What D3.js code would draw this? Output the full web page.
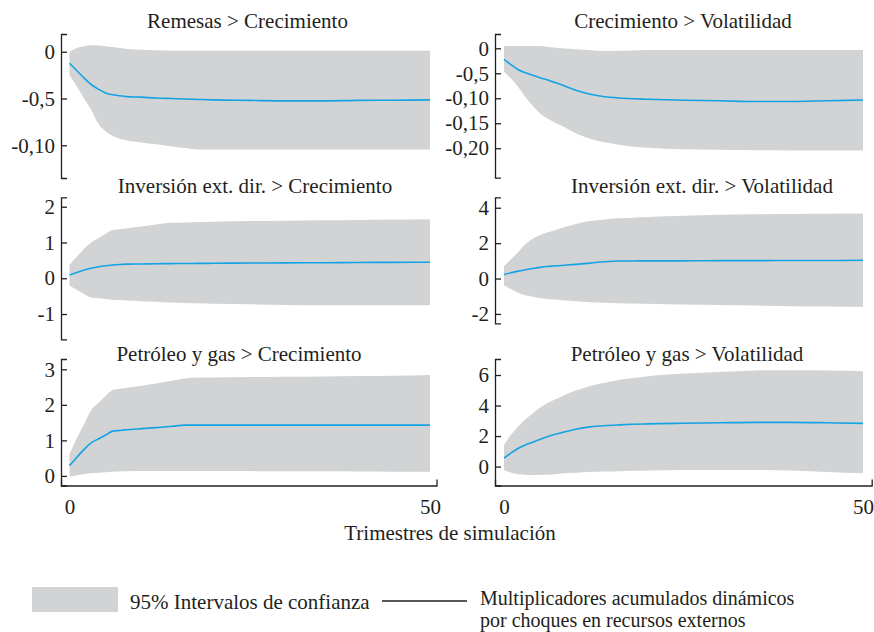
<!DOCTYPE html>
<html><head><meta charset="utf-8">
<script src="https://cdn.jsdelivr.net/npm/d3@7"></script>
<style>
body{margin:0;background:#fff;}
</style></head>
<body><svg id="c" width="874" height="632"></svg>
<script>
// ---- data ----
const T = [0,1,2,3,4,5,6,7,8,10,12,14,16,18,20,25,30,35,40,45,50];
const titles = ["Remesas > Crecimiento","Crecimiento > Volatilidad","Inversión ext. dir. > Crecimiento","Inversión ext. dir. > Volatilidad","Petróleo y gas > Crecimiento","Petróleo y gas > Volatilidad"];

const remMean = [-0.0123,-0.020,-0.028,-0.035,-0.040,-0.044,-0.046,-0.047,-0.048,-0.0485,-0.0495,-0.050,-0.0505,-0.051,-0.0515,-0.052,-0.0525,-0.0525,-0.052,-0.0518,-0.0515];
const remHi   = [0.0,0.004,0.006,0.007,0.0068,0.006,0.005,0.004,0.003,0.0022,0.0015,0.001,0.001,0.001,0.001,0.001,0.001,0.001,0.001,0.001,0.001];
const remLo   = [-0.025,-0.037,-0.050,-0.062,-0.077,-0.085,-0.090,-0.093,-0.095,-0.097,-0.099,-0.101,-0.103,-0.1046,-0.1046,-0.1046,-0.1046,-0.1046,-0.1046,-0.1046,-0.1046];

const creMean = [-0.022,-0.033,-0.043,-0.049,-0.054,-0.059,-0.063,-0.068,-0.073,-0.084,-0.092,-0.097,-0.0995,-0.101,-0.102,-0.104,-0.105,-0.1065,-0.1065,-0.105,-0.1035];
const creHi   = [0.0046,0.0046,0.0046,0.0046,0.0046,0.0046,0.003,0.0015,0.0,-0.002,-0.004,-0.0054,-0.005,-0.0045,-0.0034,-0.0034,-0.0034,-0.0034,-0.0034,-0.0034,-0.0034];
const creLo   = [-0.047,-0.061,-0.078,-0.098,-0.115,-0.130,-0.140,-0.148,-0.155,-0.170,-0.181,-0.188,-0.193,-0.197,-0.199,-0.202,-0.203,-0.204,-0.2045,-0.2048,-0.2048];

const iedCMean = [0.09,0.16,0.23,0.28,0.32,0.35,0.37,0.385,0.395,0.40,0.405,0.41,0.412,0.415,0.418,0.425,0.43,0.435,0.44,0.445,0.447];
const iedCHi   = [0.37,0.6,0.82,1.0,1.12,1.24,1.35,1.37,1.40,1.45,1.50,1.55,1.56,1.57,1.58,1.60,1.61,1.62,1.63,1.64,1.65];
const iedCLo   = [-0.2,-0.32,-0.44,-0.54,-0.56,-0.58,-0.60,-0.61,-0.62,-0.64,-0.66,-0.68,-0.69,-0.70,-0.71,-0.73,-0.75,-0.755,-0.755,-0.755,-0.755];

const iedVMean = [0.23,0.33,0.42,0.50,0.57,0.63,0.68,0.71,0.74,0.80,0.87,0.95,0.99,0.99,1.0,1.0,1.01,1.01,1.02,1.02,1.03];
const iedVHi   = [0.71,1.1,1.5,1.95,2.25,2.45,2.6,2.72,2.85,3.08,3.25,3.34,3.40,3.44,3.48,3.55,3.6,3.63,3.65,3.66,3.67];
const iedVLo   = [-0.38,-0.6,-0.82,-0.95,-1.03,-1.1,-1.15,-1.19,-1.23,-1.29,-1.34,-1.37,-1.39,-1.41,-1.43,-1.47,-1.50,-1.53,-1.56,-1.58,-1.6];

const petCMean = [0.29,0.52,0.74,0.93,1.04,1.15,1.26,1.28,1.30,1.33,1.36,1.39,1.43,1.43,1.43,1.43,1.43,1.43,1.43,1.43,1.43];
const petCHi   = [0.61,1.05,1.45,1.85,2.05,2.25,2.42,2.45,2.48,2.54,2.60,2.67,2.74,2.77,2.77,2.78,2.79,2.8,2.81,2.82,2.84];
const petCLo   = [-0.02,0.02,0.05,0.08,0.09,0.105,0.12,0.125,0.13,0.135,0.14,0.14,0.14,0.14,0.14,0.135,0.13,0.13,0.125,0.12,0.12];

const petVMean = [0.55,0.9,1.2,1.42,1.6,1.78,1.96,2.1,2.22,2.45,2.6,2.68,2.73,2.77,2.8,2.84,2.87,2.9,2.9,2.87,2.83];
const petVHi   = [1.42,2.1,2.65,3.1,3.5,3.85,4.15,4.38,4.6,4.98,5.28,5.5,5.68,5.8,5.92,6.1,6.2,6.3,6.32,6.3,6.25];
const petVLo   = [-0.22,-0.4,-0.5,-0.53,-0.55,-0.55,-0.54,-0.5,-0.45,-0.4,-0.36,-0.33,-0.3,-0.27,-0.25,-0.22,-0.22,-0.22,-0.25,-0.35,-0.43];

const yTicks = [[0,-0.05,-0.10],[0,-0.05,-0.10,-0.15,-0.20],[-1,0,1,2],[-2,0,2,4],[0,1,2,3],[0,2,4,6]];
const yTickLabels = [["0","-0,5","-0,10"],["0","-0,5","-0,10","-0,15","-0,20"],["-1","0","1","2"],["-2","0","2","4"],["0","1","2","3"],["0","2","4","6"]];
const yDomains = [[-0.135,0.019],[-0.259,0.0286],[-1.707,2.263],[-2.53,4.59],[-0.27,3.29],[-1.24,7.05]];
const xTicks = [0,50];
const xLabel = "Trimestres de simulación";
const legendBand = "95% Intervalos de confianza";
const legendLine = ["Multiplicadores acumulados dinámicos","por choques en recursos externos"];

// ---- layout ----
const FF = '"Liberation Serif", "Times New Roman", Times, "DejaVu Serif", serif';
const FS = 21;
const cols = [{ax:61, x0:69.5, x50:430, end:436.5},{ax:495, x0:504, x50:863, end:871.7}];
const rows = [{top:34, bot:[178,177.7], tb:28},{top:197.3, bot:[339.3,323.3], tb:193},{top:359, bot:[485.5,485.5], tb:361}];
const titleX = [247.5,683,255,702,239,687];
const BAND = "#d1d3d4", LINE = "#14a3e4", AX = "#231f20";

const series = [[remMean,remLo,remHi],[creMean,creLo,creHi],[iedCMean,iedCLo,iedCHi],[iedVMean,iedVLo,iedVHi],[petCMean,petCLo,petCHi],[petVMean,petVLo,petVHi]];

const svg = d3.select("#c");

function txt(sel, fs){ return sel.style("font-family",FF).style("font-size",(fs||FS)+"px").attr("fill",AX); }

series.forEach((s,i)=>{
  const c = cols[i%2], r = rows[Math.floor(i/2)];
  const bot = r.bot[i%2];
  const xs = d3.scaleLinear().domain([0,50]).range([c.x0,c.x50]);
  const ys = d3.scaleLinear().domain(yDomains[i]).range([bot, r.top]);
  const pts = T.map((t,k)=>({t, m:s[0][k], lo:s[1][k], hi:s[2][k]}));
  const g = svg.append("g");
  g.append("path").datum(pts)
    .attr("d", d3.area().x(d=>xs(d.t)).y0(d=>ys(d.lo)).y1(d=>ys(d.hi)).curve(d3.curveMonotoneX))
    .attr("fill", BAND);
  g.append("path").datum(pts)
    .attr("d", d3.line().x(d=>xs(d.t)).y(d=>ys(d.m)).curve(d3.curveMonotoneX))
    .attr("fill","none").attr("stroke",LINE).attr("stroke-width",1.6);
  // y axis
  const ya = d3.axisLeft(ys).tickValues(yTicks[i]).tickFormat((d,k)=>yTickLabels[i][k])
    .tickSizeInner(-6).tickSizeOuter(-6).tickPadding(6);
  const yg = g.append("g").attr("transform",`translate(${c.ax},0)`).call(ya);
  yg.attr("font-family",null).attr("font-size",null);
  yg.selectAll("path,line").attr("stroke",AX).attr("stroke-width",1.3);
  txt(yg.selectAll("text"));
  // x axis on bottom row
  if (Math.floor(i/2)===2){
    const xsAxis = d3.scaleLinear().domain([xs.invert(c.ax), xs.invert(c.end)]).range([c.ax,c.end]);
    const xa = d3.axisBottom(xsAxis).tickValues(xTicks).tickSizeInner(0).tickSizeOuter(-6).tickPadding(14);
    const xg = g.append("g").attr("transform",`translate(0,${bot})`).call(xa);
    xg.attr("font-family",null).attr("font-size",null);
    xg.selectAll("path,line").attr("stroke",AX).attr("stroke-width",1.3);
    txt(xg.selectAll("text"));
  }
  txt(svg.append("text").attr("x",titleX[i]).attr("y",r.tb).attr("text-anchor","middle").text(titles[i]));
});

txt(svg.append("text").attr("x",450).attr("y",540).attr("text-anchor","middle").text(xLabel));

// legend
svg.append("rect").attr("x",32).attr("y",587).attr("width",86).attr("height",25).attr("fill",BAND);
txt(svg.append("text").attr("x",130).attr("y",609).text(legendBand));
svg.append("line").attr("x1",382).attr("x2",467).attr("y1",601).attr("y2",601).attr("stroke",AX).attr("stroke-width",1.3);
legendLine.forEach((t,k)=>txt(svg.append("text").attr("x",480).attr("y",604.5+k*22.5).text(t), 20));
</script></body></html>
